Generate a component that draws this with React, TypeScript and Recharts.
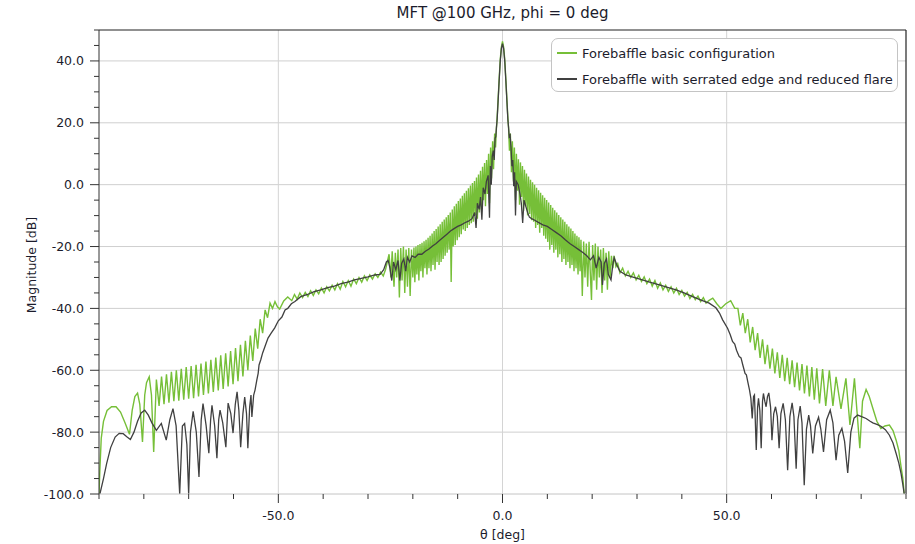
import { LineChart, Line, XAxis, YAxis, ReferenceLine, Legend, Label } from "recharts";

// [theta (deg), magnitude (dB)]
const mainLobeBasic: [number, number][] = [
  [-1.2, 21.5], [-1.0, 27], [-0.75, 34], [-0.5, 40.5], [-0.25, 44.5], [0, 46.3],
  [0.25, 44.5], [0.5, 40.5], [0.75, 34], [1.0, 27], [1.2, 21.5],
];
const mainLobeSerrated: [number, number][] = [
  [-1.2, 21], [-1.0, 26.5], [-0.75, 33.5], [-0.5, 40], [-0.25, 44], [0, 45.6],
  [0.25, 44], [0.5, 40], [0.75, 33.5], [1.0, 26.5], [1.2, 21],
];

const basicLeftWing: [number, number][] = [
  [-90, -100], [-89.8, -92], [-89.5, -82], [-89.0, -76.5], [-88.2, -73], [-87.2, -71.8],
  [-86.2, -71.8], [-85.2, -73.5], [-84.2, -77], [-83.2, -80.7], [-82.6, -73], [-82.0, -68.5],
  [-81.4, -67.4], [-80.9, -71], [-80.3, -83.2], [-79.8, -68], [-79.4, -64], [-78.8, -62.1],
  [-78.3, -68], [-77.8, -86.4], [-77.2, -63], [-76.6, -71.5], [-76.05, -62], [-75.5, -71],
  [-74.95, -61.3], [-74.4, -70.5], [-73.85, -60.5], [-73.3, -70], [-72.75, -60], [-72.2, -69.8],
  [-71.65, -59.5], [-71.1, -69.5], [-70.55, -59], [-70.0, -69.2], [-69.45, -58.6], [-68.9, -69],
  [-68.35, -58.2], [-67.8, -68.5], [-67.25, -57.8], [-66.7, -68], [-66.15, -57.2], [-65.6, -67.5],
  [-65.05, -56.6], [-64.5, -67], [-63.95, -55.9], [-63.4, -66.5], [-62.85, -55.2], [-62.3, -66],
  [-61.75, -54.5], [-61.2, -65.2], [-60.65, -53.8], [-60.1, -64.5], [-59.55, -52.8], [-59.0, -63.5],
  [-58.45, -51.8], [-57.9, -62], [-57.35, -50.5], [-56.8, -60], [-56.25, -48.8], [-55.7, -57],
  [-55.15, -46.5], [-54.6, -53], [-54.05, -43.5], [-53.5, -48], [-52.95, -40.5], [-52.4, -43],
  [-51.85, -38.3], [-51.3, -40], [-50.75, -37.8], [-50.2, -39.5], [-49.7, -40.2], [-48.8, -37.6],
  [-47.9, -36.3],
];
const basicLeftShoulder: [number, number][] = [
  [-47.0, -37.5], [-46.4, -35.5], [-45.8, -37], [-45.2, -35], [-44.6, -36.5], [-44.0, -34.8],
  [-43.4, -36.2], [-42.8, -34.3], [-42.2, -35.8], [-41.6, -34], [-41.0, -35.3], [-40.4, -33.4],
  [-39.8, -35], [-39.2, -33], [-38.6, -34.3], [-38.0, -32.5], [-37.4, -34], [-36.8, -32],
  [-36.2, -33.8], [-35.6, -31.3], [-35.0, -33], [-34.4, -31], [-33.8, -32.8], [-33.2, -30.5],
  [-32.6, -32], [-32.0, -30], [-31.4, -31.5], [-30.8, -29.5], [-30.2, -31], [-29.6, -29.2],
  [-29.0, -30.5], [-28.4, -28.8], [-27.8, -30], [-27.2, -28.3], [-26.6, -29.5], [-26.1, -27.5],
  [-25.7, -25], [-25.3, -22.5], [-24.9, -30], [-24.6, -21.5], [-24.2, -33], [-23.9, -22],
  [-23.6, -30], [-23.3, -21], [-23.0, -36.5], [-22.7, -20.5], [-22.4, -31], [-22.1, -20],
  [-21.8, -35], [-21.5, -21], [-21.2, -33], [-20.9, -20.5], [-20.6, -36], [-20.3, -21],
];
const basicLeftCore: [number, number][] = [
  [-20.0, -30], [-19.75, -20.3], [-19.55, -31.5], [-19.3, -20], [-19.1, -29], [-18.85, -19.5],
  [-18.65, -31], [-18.4, -19.2], [-18.2, -28], [-17.95, -18.8], [-17.75, -30], [-17.5, -18.3],
  [-17.3, -27], [-17.05, -17.8], [-16.85, -29], [-16.6, -17.2], [-16.4, -27], [-16.15, -16.5],
  [-15.95, -28], [-15.7, -15.8], [-15.5, -26], [-15.25, -15], [-15.05, -27.5], [-14.8, -14.3],
  [-14.6, -25], [-14.35, -13.5], [-14.15, -26], [-13.9, -12.8], [-13.7, -25], [-13.45, -12],
  [-13.25, -24], [-13.0, -11.3], [-12.8, -23], [-12.55, -10.5], [-12.35, -22], [-12.1, -9.8],
  [-11.9, -21], [-11.65, -9], [-11.45, -31.5], [-11.2, -8], [-11.0, -20], [-10.75, -7],
  [-10.55, -19.5], [-10.3, -6.2], [-10.1, -18], [-9.85, -5.3], [-9.65, -17], [-9.4, -4.5],
  [-9.2, -16], [-8.95, -3.6], [-8.75, -14.5], [-8.5, -2.8], [-8.3, -15], [-8.05, -2],
  [-7.85, -14], [-7.6, -1.2], [-7.4, -13], [-7.15, -0.3], [-6.95, -12.5], [-6.7, 0.5],
  [-6.5, -12], [-6.25, 1.2], [-6.05, -10], [-5.8, 2.3], [-5.6, -11], [-5.35, 3.3],
  [-5.15, -9], [-4.9, 4.5], [-4.7, -8], [-4.45, 5.8], [-4.25, -5], [-4.0, 7],
  [-3.8, -7], [-3.55, 8], [-3.35, -3], [-3.1, 10], [-2.9, -6], [-2.65, 12],
  [-2.45, 2], [-2.2, 14], [-2.0, 5], [-1.75, 16.5], [-1.55, 12], [-1.35, 18.5],
];
const basicRightCore: [number, number][] = [
  [1.35, 18.5], [1.55, 11], [1.75, 16.5], [2.0, 4], [2.2, 14], [2.45, 1],
  [2.65, 12], [2.9, -5], [3.1, 10], [3.35, -2], [3.55, 8.2], [3.8, -6.5],
  [4.0, 7.2], [4.25, -4], [4.45, 6], [4.7, -8.5], [4.9, 4.8], [5.15, -7],
  [5.35, 3.6], [5.6, -10], [5.8, 2.6], [6.05, -9.5], [6.25, 1.6], [6.5, -11.5],
  [6.7, 0.8], [6.95, -12], [7.15, 0], [7.4, -14], [7.6, -1], [7.85, -13],
  [8.05, -1.8], [8.3, -15.5], [8.5, -2.6], [8.75, -14], [8.95, -3.4], [9.2, -16.5],
  [9.4, -4.2], [9.65, -17.5], [9.85, -5], [10.1, -18.5], [10.3, -5.8], [10.55, -21],
  [10.75, -6.6], [11.0, -19.5], [11.2, -7.5], [11.45, -22], [11.65, -8.3], [11.9, -21],
  [12.1, -9], [12.35, -23.5], [12.55, -9.8], [12.8, -22.5], [13.0, -10.5], [13.25, -25],
  [13.45, -11.3], [13.7, -24], [13.9, -12], [14.15, -26], [14.35, -12.8], [14.6, -25],
  [14.8, -13.5], [15.05, -27], [15.25, -14.2], [15.5, -26], [15.7, -15], [15.95, -28],
  [16.15, -15.8], [16.4, -27], [16.6, -16.5], [16.85, -29], [17.05, -17], [17.3, -28],
  [17.5, -17.8],
];
const basicRightShoulder: [number, number][] = [
  [17.8, -36], [18.1, -18.4], [18.4, -30], [18.7, -19], [19.0, -33], [19.3, -18.5],
  [19.6, -29], [19.85, -37.3], [20.1, -19.5], [20.4, -31], [20.7, -19], [21.0, -34],
  [21.3, -20], [21.6, -30], [21.9, -21], [22.2, -35], [22.5, -20.5], [22.8, -31],
  [23.1, -22], [23.4, -34], [23.7, -21.5], [24.0, -30], [24.3, -23], [24.6, -27],
  [24.9, -23], [25.3, -26.5], [25.7, -25.5], [26.2, -28.5], [26.8, -27], [27.4, -29.5],
  [28.0, -28], [28.6, -30], [29.2, -28.5], [29.8, -30.8], [30.4, -29.3], [31.0, -31.3],
  [31.6, -29.8], [32.2, -32], [32.8, -30.5], [33.4, -32.8], [34.0, -31], [34.6, -33.5],
  [35.2, -31.8], [35.8, -34], [36.4, -32.5], [37.0, -34.5], [37.6, -33], [38.2, -35],
  [38.8, -33.5], [39.4, -35.5], [40.0, -34.2], [40.6, -36], [41.2, -34.8], [41.8, -36.8],
  [42.4, -35.5], [43.0, -37.2], [43.6, -36], [44.2, -37.8], [44.8, -36.5], [45.4, -38.3],
  [46.0, -37.5], [46.9, -36.7], [47.8, -38.5], [48.7, -40], [49.8, -38.5], [50.9, -37.5],
  [51.8, -40], [52.5, -40],
];
const basicRightWing: [number, number][] = [
  [53.05, -45.5], [53.6, -41.5], [54.15, -48], [54.7, -43.5], [55.25, -51], [55.8, -46],
  [56.35, -53.5], [56.9, -48], [57.45, -56], [58.0, -50], [58.55, -58], [59.1, -51.8],
  [59.65, -59.5], [60.2, -53], [60.75, -61], [61.3, -54.2], [61.85, -62.5], [62.4, -55],
  [62.95, -63.5], [63.5, -56], [64.05, -64.5], [64.6, -56.8], [65.15, -65.5], [65.7, -57.5],
  [66.25, -66.5], [66.8, -58], [67.35, -67.5], [67.9, -58.5], [68.45, -68.5], [69.0, -59],
  [69.55, -69.5], [70.1, -59.4], [70.7, -70.7], [71.4, -59.6], [72.1, -71.5], [72.9, -60],
  [73.7, -71.5], [74.4, -62.1], [75.5, -72.5], [76.6, -62.6], [77.5, -77.7], [78.5, -62.6],
  [79.7, -85.2], [80.3, -70], [81.1, -66.2], [81.8, -68.5], [82.6, -72.3], [83.5, -76.5],
  [84.4, -78.8], [85.3, -78], [86.3, -77.7], [87.1, -79.5], [87.8, -82.6], [88.4, -86],
  [88.9, -91.2], [89.3, -95], [89.6, -100],
];

const serratedLeftWing: [number, number][] = [
  [-89.8, -100], [-89.0, -95], [-88.3, -90.2], [-87.4, -85], [-86.4, -81.6], [-85.5, -80.4],
  [-84.6, -80.5], [-83.8, -81.5], [-83.0, -82.4], [-82.2, -80], [-81.4, -76.5], [-80.6, -73.8],
  [-79.8, -72.9], [-79.0, -74.5], [-78.2, -77], [-77.2, -79.4], [-76.1, -77.2], [-75.0, -82.6],
  [-74.2, -76], [-73.5, -72.4], [-72.8, -78], [-72.0, -100], [-71.4, -78], [-70.9, -77.2],
  [-70.4, -84], [-70.0, -100], [-69.6, -80], [-69.0, -73.3], [-68.3, -80], [-67.7, -94.5],
  [-67.2, -76], [-66.8, -70.8], [-66.1, -78], [-65.5, -86.8], [-65.1, -76], [-64.8, -71.3],
  [-64.2, -78], [-63.7, -88.4], [-63.3, -76], [-63.0, -72.9], [-62.4, -77], [-61.7, -84.9],
  [-61.4, -76], [-61.2, -70.6], [-60.6, -74], [-60.1, -80.3], [-59.6, -71], [-59.2, -67],
  [-58.8, -73], [-58.4, -84.9], [-57.9, -74], [-57.5, -68.7], [-57.1, -74], [-56.8, -85.2],
  [-56.4, -72], [-56.1, -68], [-55.9, -75.1], [-55.5, -68], [-55.2, -66.4], [-54.8, -63.2],
  [-54.5, -61], [-54.3, -58.3], [-53.9, -56.5], [-53.5, -54.4], [-52.9, -52], [-52.3, -49.6],
  [-51.6, -48], [-50.8, -46.3], [-50.0, -44], [-49.2, -42.8], [-48.5, -40.5], [-47.9, -40],
  [-47.1, -38.5], [-46.3, -37.8],
];
const serratedLeftCore: [number, number][] = [
  [-45.0, -36.2], [-43.5, -35.5], [-42.0, -34.6], [-40.5, -34], [-39.0, -33.3], [-37.5, -32.8],
  [-36.0, -32], [-34.5, -31.5], [-33.0, -30.8], [-31.5, -30.3], [-30.0, -29.8], [-28.5, -29.2],
  [-27.3, -29], [-26.5, -27.5], [-25.9, -25], [-25.5, -24.5], [-25.1, -27], [-24.7, -31],
  [-24.3, -25], [-23.8, -27.5], [-23.3, -24.5], [-22.9, -31], [-22.5, -25.5], [-22.0, -24],
  [-21.6, -28], [-21.2, -23.5], [-20.7, -25], [-20.2, -23], [-19.5, -23.5], [-18.8, -22.5],
  [-18.0, -22.5], [-17.2, -21.5], [-16.4, -20.8], [-15.6, -19.8], [-14.8, -19], [-14.0, -18],
  [-13.2, -17], [-12.4, -16], [-11.6, -15], [-10.8, -14.2], [-10.0, -13.5], [-9.2, -13],
  [-8.4, -12.3], [-7.6, -11.8], [-6.8, -11], [-6.2, -9], [-5.9, -14], [-5.6, -6],
  [-5.2, -8], [-4.9, -4], [-4.6, -11.3], [-4.3, -1], [-3.9, -3], [-3.6, 1],
  [-3.2, 3], [-2.9, -10.7], [-2.7, 6], [-2.5, 0], [-2.3, 9], [-2.05, 11],
  [-1.85, 8], [-1.65, 15], [-1.5, 15.5], [-1.35, 18.5],
];
const serratedRightCore: [number, number][] = [
  [1.35, 18.5], [1.5, 15.5], [1.7, 16], [1.9, 12], [2.1, 6], [2.3, 8],
  [2.5, -0.5], [2.7, 4], [2.9, -10], [3.1, 1], [3.5, 0], [3.9, -3],
  [4.2, -6], [4.5, -12.4], [4.8, -5], [5.2, -7], [5.6, -9], [6.0, -10.5],
  [6.5, -11], [7.2, -11.5], [8.0, -12.2], [9.0, -13], [10.0, -13.5], [11.0, -14.5],
  [12.0, -15.5], [13.0, -16.5], [14.0, -17.8], [15.0, -19], [16.0, -20], [17.0, -21],
  [18.0, -22], [18.8, -23], [19.6, -24.3], [20.3, -23], [20.9, -27], [21.5, -23.5],
  [22.0, -25], [22.3, -32.4], [22.7, -25.5], [23.2, -24], [23.6, -29], [24.2, -30.8],
  [24.6, -26], [24.9, -23.6], [25.5, -26], [26.2, -28], [27.5, -29.2], [29.3, -30],
  [31.2, -30.8], [33.0, -31.6], [35.0, -32.4], [36.8, -33.2], [38.7, -34], [40.5, -35],
  [42.4, -36.2], [44.3, -37.3], [46.1, -38.3], [47.6, -39.8], [48.4, -41.5], [49.1, -43.7],
];
const serratedRightWing: [number, number][] = [
  [50.2, -46.4], [50.8, -48.5], [51.3, -50.7], [51.8, -51.5], [52.2, -53.5], [52.8, -55.6],
  [53.2, -56], [53.6, -58.3], [54.1, -61], [54.4, -61.5], [54.7, -63.7], [55.1, -66.4],
  [55.4, -69.1], [55.7, -75.6], [56.0, -68.5], [56.2, -68], [56.6, -85.8], [56.9, -72],
  [57.1, -69.1], [57.4, -73], [57.7, -85.2], [58.0, -70], [58.2, -67.5], [58.5, -70],
  [58.8, -71.8], [59.1, -68.5], [59.4, -67.3], [59.8, -72], [60.1, -82.6], [60.5, -74],
  [60.9, -71.8], [61.3, -75], [61.7, -85.2], [62.1, -74], [62.6, -70.7], [63.1, -76],
  [63.6, -92.3], [64.1, -75], [64.6, -70.5], [65.0, -75], [65.5, -91.8], [65.9, -76],
  [66.4, -71.6], [66.8, -77], [67.3, -97.2], [67.8, -79], [68.3, -74.5], [68.7, -78],
  [69.2, -86.9], [69.8, -78], [70.5, -75.2], [71.0, -79], [71.6, -86.4], [72.3, -76],
  [73.1, -72.9], [73.7, -77], [74.4, -89.1], [75.0, -81], [75.7, -78.8], [76.3, -83],
  [77.0, -93.2], [77.7, -80], [78.4, -75.5], [79.2, -74.5], [80.1, -75], [81.1, -75.6],
  [82.0, -76.5], [82.6, -77], [83.5, -77.5], [84.4, -78.1], [85.4, -79.2], [86.3, -81],
  [87.1, -83.5], [87.8, -86.9], [88.4, -90], [88.9, -93.4], [89.3, -97], [89.6, -100],
];

const xTicks = [-90, -80, -70, -60, -50, -40, -30, -20, -10, 0, 10, 20, 30, 40, 50, 60, 70, 80, 90];
const xGrid = [-50, 0, 50];
const yTicks = [-100, -95, -90, -85, -80, -75, -70, -65, -60, -55, -50, -45, -40, -35, -30, -25, -20,
  -15, -10, -5, 0, 5, 10, 15, 20, 25, 30, 35, 40, 45, 50];
const yGrid = [-80, -60, -40, -20, 0, 20, 40];

const toRows = (pairs: [number, number][]) => pairs.map(([theta, db]) => ({ theta, db }));

const basicData = toRows([
  ...basicLeftWing, ...basicLeftShoulder, ...basicLeftCore, ...mainLobeBasic,
  ...basicRightCore, ...basicRightShoulder, ...basicRightWing,
]);
const serratedData = toRows([
  ...serratedLeftWing, ...serratedLeftCore, ...mainLobeSerrated, ...serratedRightCore, ...serratedRightWing,
]);

const FONT = "'DejaVu Sans', Verdana, sans-serif";
const GREEN = "#76bf38";
const DARK = "#404040";

const XTick = (props: any) => {
  const { x, y, payload } = props;
  const major = payload.value % 50 === 0;
  return (
    <g>
      <line x1={x} x2={x} y1={y} y2={y + (major ? 9 : 5)} stroke="#333" />
      {major && (
        <text x={x} y={y + 26} textAnchor="middle" fontSize={12.5} fontFamily={FONT} fill="#1c1c2c">
          {payload.value.toFixed(1)}
        </text>
      )}
    </g>
  );
};

const YTick = (props: any) => {
  const { x, y, payload } = props;
  const major = payload.value % 20 === 0;
  return (
    <g>
      <line x1={x - (major ? 9 : 5)} x2={x} y1={y} y2={y} stroke="#333" />
      {major && (
        <text x={x - 15} y={y + 4.5} textAnchor="end" fontSize={12.5} fontFamily={FONT} fill="#1c1c2c">
          {payload.value.toFixed(1)}
        </text>
      )}
    </g>
  );
};

const LegendBox = ({ payload }: any) => (
  <div
    style={{
      boxSizing: "border-box",
      width: 347,
      height: 54,
      border: "1px solid #c4c4c4",
      borderRadius: 7,
      background: "#fff",
      padding: "1px 0 0 5px",
      fontFamily: FONT,
      fontSize: 13,
      color: "#1c1c2c",
    }}
  >
    {(payload || []).map((p: any) => (
      <div key={p.value} style={{ display: "flex", alignItems: "center", height: 26 }}>
        <span style={{ display: "inline-block", width: 20, height: 2, background: p.color, marginRight: 5 }} />
        <span>{p.value}</span>
      </div>
    ))}
  </div>
);

export default function App() {
  return (
    <div style={{ position: "absolute", left: 0, top: 0, width: 915, height: 544, background: "#fff" }}>
      <div
        style={{
          position: "absolute",
          left: 99,
          width: 807,
          top: 4,
          textAlign: "center",
          fontFamily: FONT,
          fontSize: 15,
          color: "#1c1c2c",
        }}
      >
        MFT @100 GHz, phi = 0 deg
      </div>
      <LineChart width={915} height={544} margin={{ top: 30, right: 9, bottom: 0, left: 0 }}>
        <XAxis
          type="number"
          dataKey="theta"
          domain={[-90, 90]}
          ticks={xTicks}
          interval={0}
          height={50}
          tickSize={0}
          tickMargin={0}
          tickLine={false}
          tick={<XTick />}
          axisLine={{ stroke: "#c4c4c4" }}
          allowDataOverflow
        >
          <Label
            content={(p: any) => {
              const vb = p.viewBox;
              return (
                <text x={vb.x + vb.width / 2} y={vb.y + 45} textAnchor="middle" fontSize={12.5} fontFamily={FONT} fill="#1c1c2c">
                  θ [deg]
                </text>
              );
            }}
          />
        </XAxis>
        <YAxis
          type="number"
          dataKey="db"
          domain={[-100, 50]}
          ticks={yTicks}
          interval={0}
          width={99}
          tickSize={0}
          tickMargin={0}
          tickLine={false}
          tick={<YTick />}
          axisLine={{ stroke: "#333" }}
          allowDataOverflow
        >
          <Label
            content={(p: any) => {
              const vb = p.viewBox;
              const cx = vb.x + 36;
              const cy = vb.y + vb.height / 2 + 3;
              return (
                <text x={cx} y={cy} transform={`rotate(-90, ${cx}, ${cy})`} textAnchor="middle" fontSize={12.5} fontFamily={FONT} fill="#1c1c2c">
                  Magnitude [dB]
                </text>
              );
            }}
          />
        </YAxis>
        {yGrid.map((v) => (
          <ReferenceLine key={`y${v}`} y={v} stroke="#cfcfcf" strokeWidth={1} />
        ))}
        {xGrid.map((v) => (
          <ReferenceLine key={`x${v}`} x={v} stroke="#d4d4d4" strokeWidth={1} />
        ))}
        <ReferenceLine y={50} stroke="#222" strokeWidth={1.2} />
        <ReferenceLine x={90} stroke="#222" strokeWidth={1.2} />
        <Legend
          layout="vertical"
          align="center"
          verticalAlign="middle"
          content={<LegendBox />}
          wrapperStyle={{ left: 551, top: 38, width: 347, height: 54 }}
        />
        <Line
          data={basicData}
          dataKey="db"
          name="Forebaffle basic configuration"
          type="linear"
          stroke={GREEN}
          strokeWidth={1.4}
          dot={false}
          isAnimationActive={false}
        />
        <Line
          data={serratedData}
          dataKey="db"
          name="Forebaffle with serrated edge and reduced flare"
          type="linear"
          stroke={DARK}
          strokeWidth={1.3}
          dot={false}
          isAnimationActive={false}
        />
      </LineChart>
    </div>
  );
}
